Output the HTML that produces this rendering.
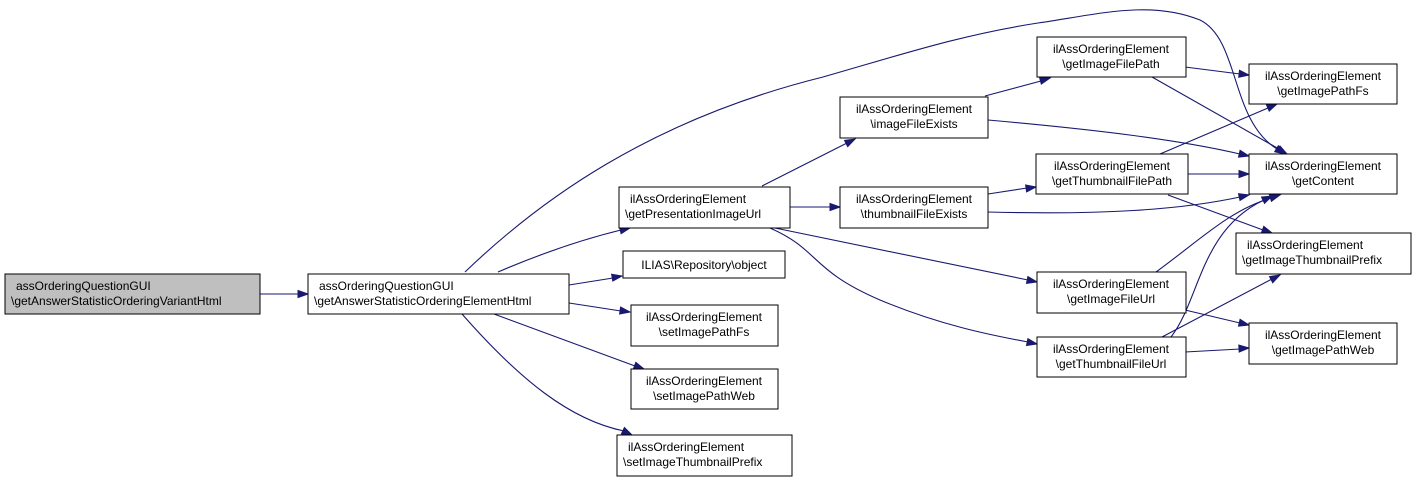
<!DOCTYPE html>
<html><head><meta charset="utf-8"><style>
html,body{margin:0;padding:0;background:#fff;}
svg{display:block;}
text{font-family:"Liberation Sans",Arial,sans-serif;font-size:12px;fill:#000;}
.n{fill:#fff;stroke:#000;stroke-width:1;}
.e path{fill:none;stroke:#191970;stroke-width:1.1;}
.h polygon{fill:#191970;stroke:#191970;stroke-width:1;}
</style></head><body>
<svg width="1416" height="481" viewBox="0 0 1416 481" xmlns="http://www.w3.org/2000/svg">
<g class="e">
<path d="M260,294 L299,294"/>
<path d="M498,272 C540,254 580,240 621,230"/>
<path d="M569,285 L613,278"/>
<path d="M569,303 L621,311"/>
<path d="M494,314 L635,366"/>
<path d="M462,314 C520,380 570,420 624,431"/>
<path d="M465,272 C540,200 650,120 823,77 C900,55 960,35 1038,23 C1100,14 1150,0 1200,20 C1240,40 1230,120 1277,149"/>
<path d="M762,186 L847,143"/>
<path d="M790,207 L831,207"/>
<path d="M775,228 L1028,280"/>
<path d="M770,228 C820,250 810,270 880,300 C940,325 990,335 1028,342"/>
<path d="M985,96 L1041,81"/>
<path d="M988,120 C1100,130 1180,140 1240,154"/>
<path d="M988,194 L1027,188"/>
<path d="M988,212 C1100,215 1180,210 1240,197"/>
<path d="M1185,67 L1240,74"/>
<path d="M1152,77 L1279,149"/>
<path d="M1160,154 L1268,108"/>
<path d="M1188,174 L1240,174"/>
<path d="M1168,195 L1263,230"/>
<path d="M1156,272 C1200,240 1230,210 1271,198"/>
<path d="M1185,310 L1240,323"/>
<path d="M1171,337 C1200,300 1200,230 1264,200"/>
<path d="M1162,337 L1272,279"/>
<path d="M1185,352 L1240,349"/>
</g>
<g class="h">
<polygon points="298,290.5 308,294 298,297.5"/>
<polygon points="621.1,233.7 630,228 619.5,226.9"/>
<polygon points="612.8,281.1 622,276 611.6,274.2"/>
<polygon points="619.6,314 630,312 620.6,307"/>
<polygon points="633.4,368.9 644,369 635.8,362.3"/>
<polygon points="621.4,433.9 632,435 624.4,427.5"/>
<polygon points="1274.7,151.7 1285,154 1278.3,145.7"/>
<polygon points="847.7,146.6 855,139 844.5,140.4"/>
<polygon points="830,203.5 840,207 830,210.5"/>
<polygon points="1026.5,283.4 1037,282 1027.9,276.6"/>
<polygon points="1026.5,345.5 1037,344 1027.9,338.7"/>
<polygon points="1041.3,84.1 1050,78 1039.5,77.3"/>
<polygon points="1238.5,157.1 1249,156 1240.1,150.3"/>
<polygon points="1026.6,191.9 1036,187 1025.6,185"/>
<polygon points="1240,200.5 1249,195 1238.5,193.7"/>
<polygon points="1238.7,77.2 1249,75 1239.5,70.3"/>
<polygon points="1276.6,152 1287,154 1280,146"/>
<polygon points="1269.2,111.1 1277,104 1266.4,104.7"/>
<polygon points="1239,170.5 1249,174 1239,177.5"/>
<polygon points="1261.4,232.9 1272,233 1263.8,226.3"/>
<polygon points="1271.4,201.3 1280,195 1269.4,194.6"/>
<polygon points="1238.5,326.1 1249,325 1240.1,319.3"/>
<polygon points="1264.5,203.4 1272,196 1261.5,197.1"/>
<polygon points="1272.7,282.8 1280,275 1269.5,276.6"/>
<polygon points="1239.2,352.1 1249,348 1238.8,345.1"/>
</g>
<rect x="5" y="274" width="255" height="40" fill="#bfbfbf" stroke="#000"/>
<text x="16" y="290">assOrderingQuestionGUI</text><text x="11" y="305">\getAnswerStatisticOrderingVariantHtml</text>
<rect class="n" x="308" y="274" width="261" height="40"/>
<text x="319" y="290">assOrderingQuestionGUI</text><text x="314" y="305">\getAnswerStatisticOrderingElementHtml</text>
<rect class="n" x="619" y="187" width="171" height="41"/>
<text x="630" y="203">ilAssOrderingElement</text><text x="625" y="218">\getPresentationImageUrl</text>
<rect class="n" x="623" y="251" width="162" height="27"/>
<text x="704" y="269" text-anchor="middle">ILIAS\Repository\object</text>
<g text-anchor="middle">
<rect class="n" x="631" y="305" width="147" height="41"/>
<text x="704" y="321">ilAssOrderingElement</text><text x="704" y="336">\setImagePathFs</text>
<rect class="n" x="631" y="369" width="147" height="40"/>
<text x="704" y="385">ilAssOrderingElement</text><text x="704" y="400">\setImagePathWeb</text>
<rect class="n" x="840" y="97" width="148" height="41"/>
<text x="914" y="113">ilAssOrderingElement</text><text x="914" y="128">\imageFileExists</text>
<rect class="n" x="840" y="187" width="148" height="41"/>
<text x="914" y="203">ilAssOrderingElement</text><text x="914" y="218">\thumbnailFileExists</text>
<rect class="n" x="1037" y="37" width="149" height="40"/>
<text x="1111" y="53">ilAssOrderingElement</text><text x="1111" y="68">\getImageFilePath</text>
<rect class="n" x="1036" y="154" width="152" height="40"/>
<text x="1112" y="170">ilAssOrderingElement</text><text x="1112" y="185">\getThumbnailFilePath</text>
<rect class="n" x="1037" y="272" width="149" height="41"/>
<text x="1111" y="288">ilAssOrderingElement</text><text x="1111" y="303">\getImageFileUrl</text>
<rect class="n" x="1037" y="337" width="149" height="40"/>
<text x="1111" y="353">ilAssOrderingElement</text><text x="1111" y="368">\getThumbnailFileUrl</text>
<rect class="n" x="1249" y="64" width="148" height="40"/>
<text x="1323" y="80">ilAssOrderingElement</text><text x="1323" y="95">\getImagePathFs</text>
<rect class="n" x="1249" y="154" width="148" height="40"/>
<text x="1323" y="170">ilAssOrderingElement</text><text x="1323" y="185">\getContent</text>
<rect class="n" x="1249" y="323" width="148" height="41"/>
<text x="1323" y="339">ilAssOrderingElement</text><text x="1323" y="354">\getImagePathWeb</text>
</g>
<rect class="n" x="1236" y="233" width="175" height="41"/>
<text x="1247" y="249">ilAssOrderingElement</text><text x="1242" y="264">\getImageThumbnailPrefix</text>
<rect class="n" x="617" y="435" width="175" height="41"/>
<text x="628" y="451">ilAssOrderingElement</text><text x="623" y="466">\setImageThumbnailPrefix</text>
</svg>
</body></html>
